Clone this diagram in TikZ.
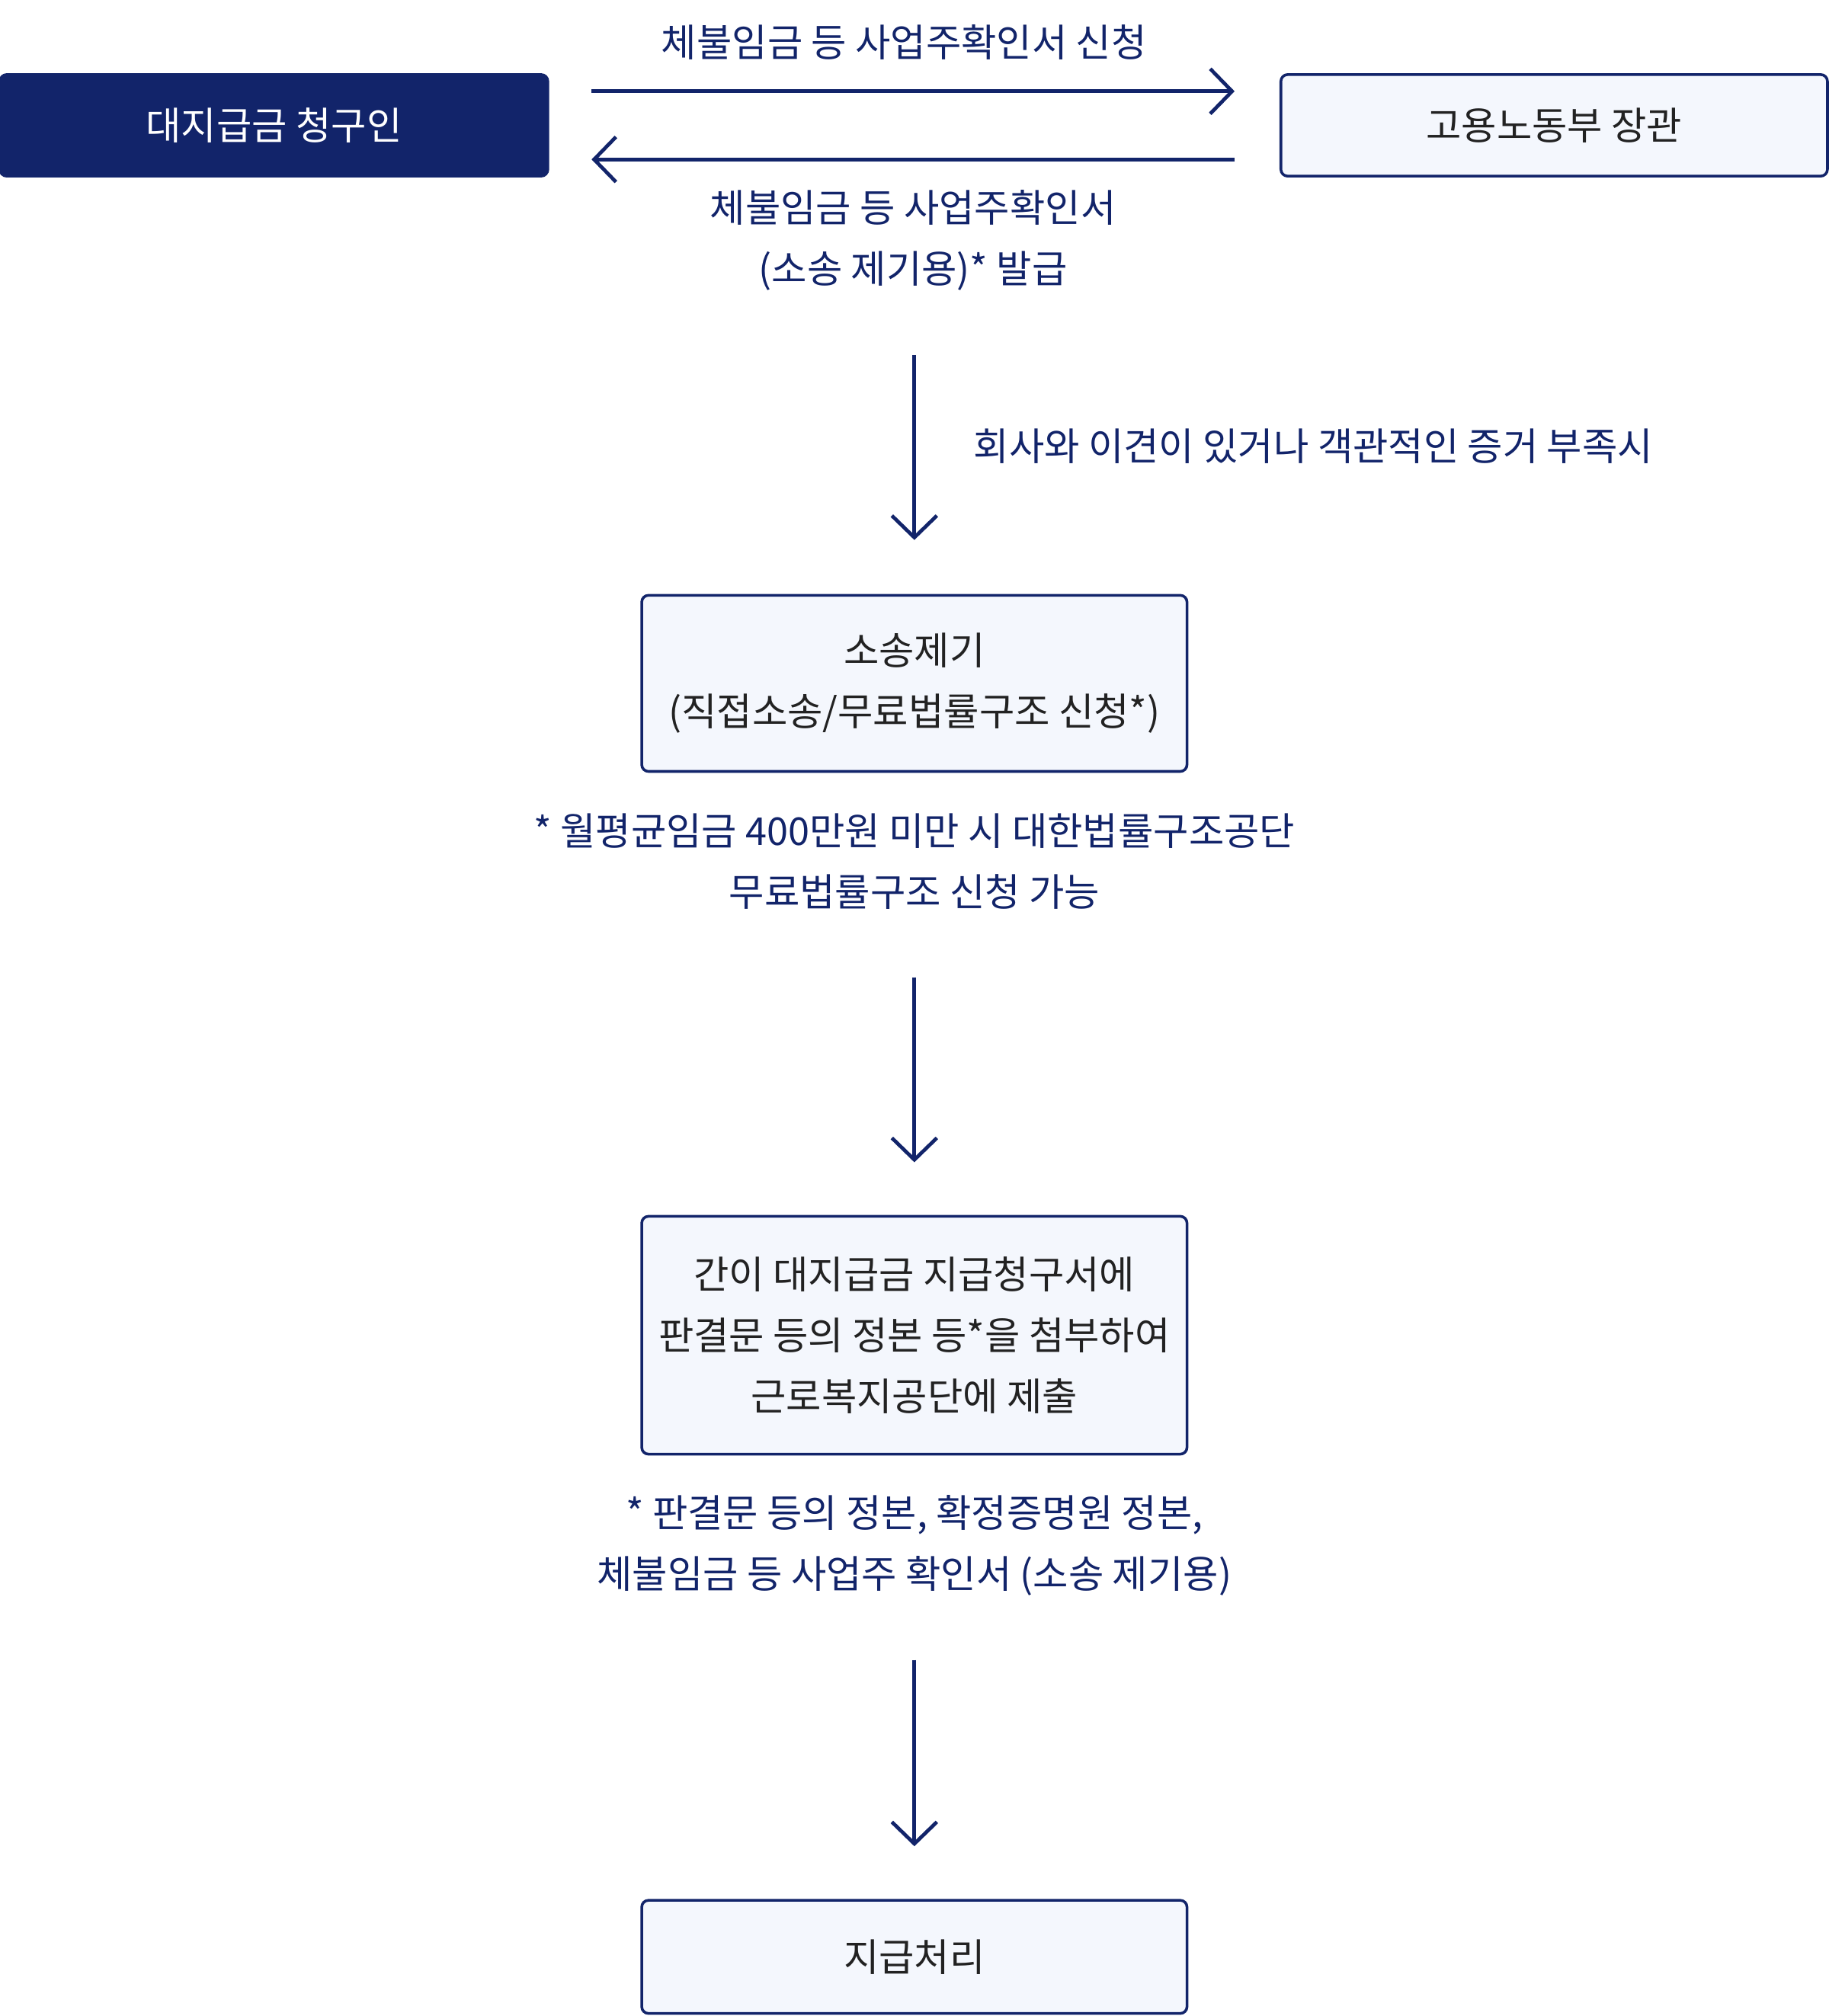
\documentclass[tikz,border=0pt]{standalone}
\usepackage{fontspec}
\setmainfont{Noto Sans CJK KR}
\usetikzlibrary{positioning,arrows.meta}
\definecolor{navy}{HTML}{12246A}
\definecolor{paleblue}{HTML}{F4F7FD}
\definecolor{ink}{HTML}{222222}
\tikzset{
  box/.style={draw=navy, line width=1.2pt, rounded corners=3pt, fill=paleblue,
    text=ink, minimum width=424*0.02cm, align=center, font=\fontsize{17}{27}\selectfont},
  note/.style={text=navy, align=center, font=\fontsize{17}{27}\selectfont},
  flow/.style={navy, line width=1.6pt, -{Straight Barb[length=0.34cm,width=0.7cm,line width=1.6pt]}}
}
\begin{document}
\begin{tikzpicture}[x=0.02cm,y=-0.02cm]
    \useasboundingbox (0,0) rectangle (1422,1568);
    % top row
    \node[box, fill=navy, draw=navy, text=white, minimum width=426*0.02cm, minimum height=79*0.02cm] (claimant) at (213,97.5) {대지급금 청구인};
    \node[box, minimum width=425*0.02cm, minimum height=79*0.02cm] (minister) at (1208.5,97.5) {고용노동부 장관};
    \coordinate (reqL) at (460,71);
    \coordinate (reqR) at (960,71);
    \coordinate (issR) at (960,124);
    \coordinate (issL) at (460,124);
    \draw[flow] (reqL) -- (reqR);
    \draw[flow] (issR) -- (issL);
    \node[note] (reqlabel) at (703,33) {체불임금 등 사업주확인서 신청};
    \node[note] (isslabel) at (710,187) {체불임금 등 사업주확인서\\(소송 제기용)* 발급};

    % lawsuit
    \coordinate (a1top) at (711,276);
    \coordinate (a1bot) at (711,420);
    \draw[flow] (a1top) -- (a1bot);
    \node[note, anchor=west] (dispute) at (751,347) {회사와 이견이 있거나 객관적인 증거 부족시};
    \node[box, minimum height=137*0.02cm] (lawsuit) at (711,531.5) {소송제기\\(직접소송/무료법률구조 신청*)};
    \node[note] (aidnote) at (711,670) {* 월평균임금 400만원 미만 시 대한법률구조공단\\무료법률구조 신청 가능};

    % submission
    \coordinate (a2top) at (711,760);
    \coordinate (a2bot) at (711,904);
    \draw[flow] (a2top) -- (a2bot);
    \node[box, minimum height=185*0.02cm] (submit) at (711,1038.5) {간이 대지급금 지급청구서에\\판결문 등의 정본 등*을 첨부하여\\근로복지공단에 제출};
    \node[note] (docnote) at (711,1202) {* 판결문 등의 정본, 확정증명원 정본,\\체불임금 등 사업주 확인서 (소송 제기용)};

    % payment
    \coordinate (a3top) at (711,1291);
    \coordinate (a3bot) at (711,1436);
    \draw[flow] (a3top) -- (a3bot);
    \node[box, minimum height=88*0.02cm] (payment) at (711,1522) {지급처리};
\end{tikzpicture}
\end{document}
